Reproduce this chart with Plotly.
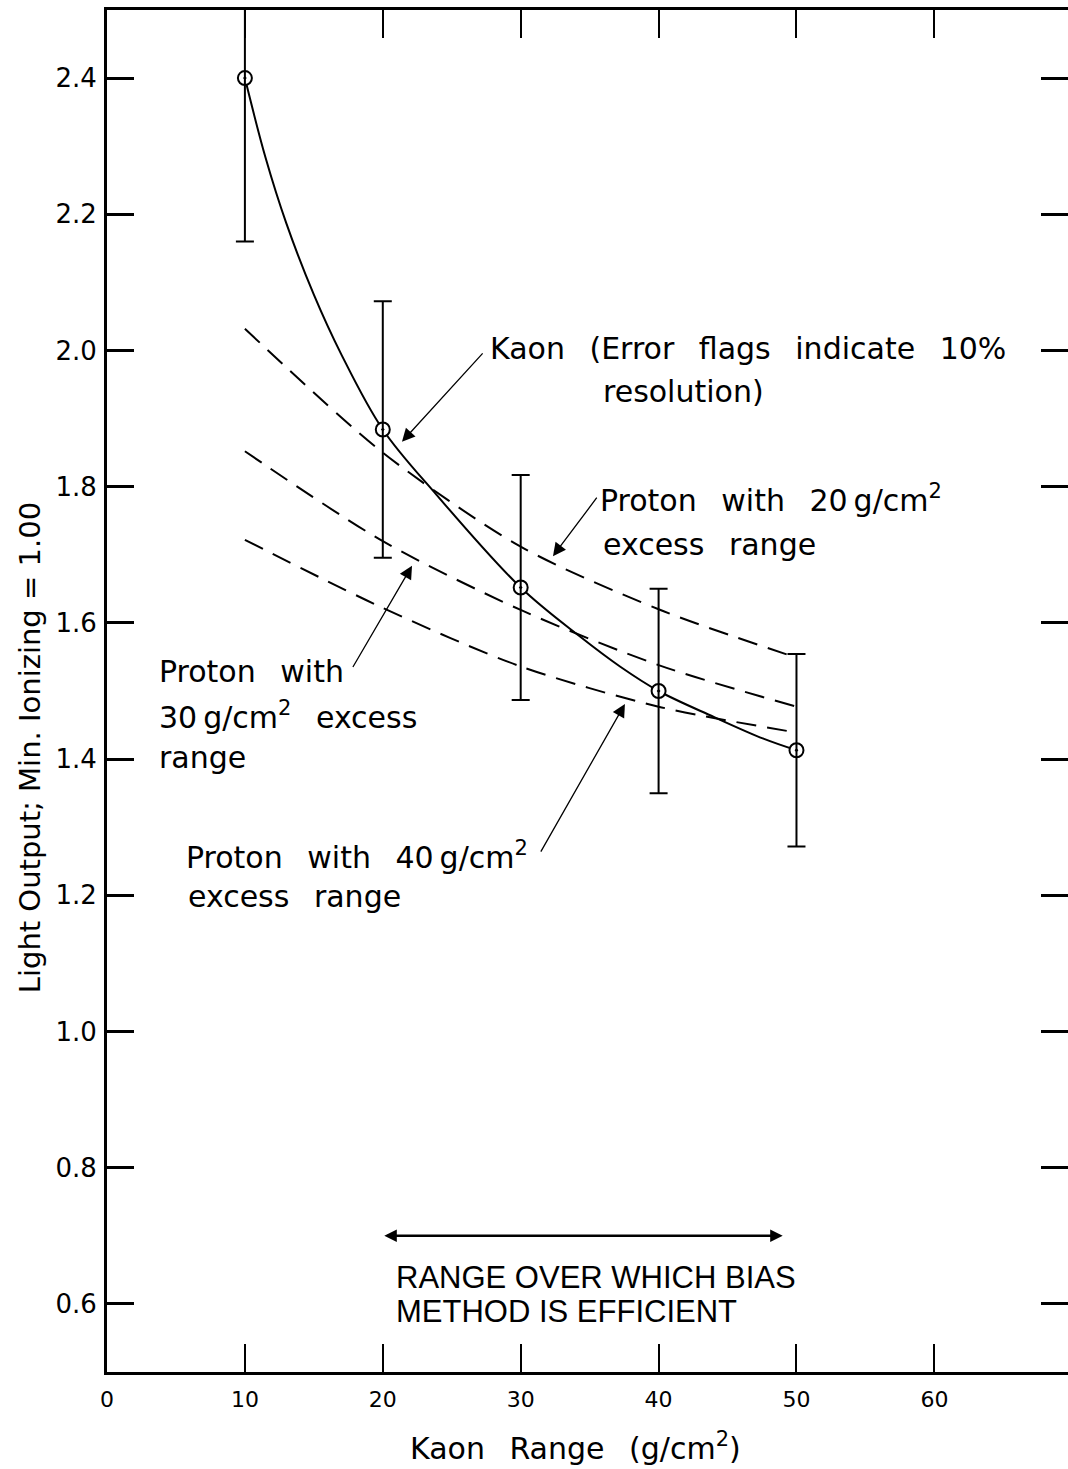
import plotly.graph_objects as go

# Measured kaon light output (relative to minimum ionizing) vs. kaon range
kaon_range = [10, 20, 30, 40, 50]
kaon_light = [2.40, 1.884, 1.652, 1.50, 1.413]
error_percent = 10

# Hand-drawn kaon curve through the measured points
kaon_curve_x = [10, 11.5, 13, 15, 17, 20, 23.9, 30, 34.3, 37.2, 40, 44, 47.6, 50]
kaon_curve_y = [2.40, 2.283, 2.187, 2.082, 1.994, 1.884, 1.788, 1.652, 1.580, 1.536, 1.50, 1.462, 1.430, 1.413]

# Proton curves for different excess ranges
proton_x = [10, 20, 30, 40, 50]
proton_20 = [2.032, 1.850, 1.712, 1.620, 1.549]
proton_30 = [1.852, 1.720, 1.619, 1.538, 1.477]
proton_40 = [1.722, 1.622, 1.536, 1.477, 1.439]

x_ticks = [0, 10, 20, 30, 40, 50, 60]
y_ticks = [0.6, 0.8, 1.0, 1.2, 1.4, 1.6, 1.8, 2.0, 2.2, 2.4]
y_tick_text = ["0.6", "0.8", "1.0", "1.2", "1.4", "1.6", "1.8", "2.0", "2.2", "2.4"]

W, H = 1068, 1469
ML, MR, MT, MB = 107, 0, 10, 97
X_RANGE = [0, 69.69]
Y_RANGE = [0.5, 2.5]

LETTER = "DejaVu Sans"
INK = "black"


def spaced(s):
    # hand lettering leaves generous gaps between words
    return s.replace(" ", "\u2002 ")


fig = go.Figure()

for ys in (proton_20, proton_30, proton_40):
    fig.add_trace(go.Scatter(
        x=proton_x, y=ys, mode="lines",
        line=dict(color=INK, width=2, dash="20px,11px", shape="spline", smoothing=0.8),
        showlegend=False, hoverinfo="skip"))

fig.add_trace(go.Scatter(
    x=kaon_curve_x, y=kaon_curve_y, mode="lines",
    line=dict(color=INK, width=2, shape="spline", smoothing=1.0),
    showlegend=False, hoverinfo="skip"))

# white discs so the curves stop at the point circles
fig.add_trace(go.Scatter(
    x=kaon_range, y=kaon_light, mode="markers",
    marker=dict(symbol="circle", size=14, color="white", line=dict(width=0)),
    showlegend=False, hoverinfo="skip"))

fig.add_trace(go.Scatter(
    x=kaon_range, y=kaon_light, mode="markers",
    marker=dict(symbol="circle-open-dot", size=14, color=INK, line=dict(width=2, color=INK)),
    error_y=dict(type="percent", value=error_percent, color=INK, thickness=2, width=9),
    showlegend=False))

annotations = []


def label(text, px_x, px_y, size=30, family=LETTER):
    x = X_RANGE[0] + (px_x - ML) / (W - ML - MR) * (X_RANGE[1] - X_RANGE[0])
    y = Y_RANGE[1] - (px_y - MT) / (H - MT - MB) * (Y_RANGE[1] - Y_RANGE[0])
    annotations.append(dict(
        x=x, y=y, xref="x", yref="y", text=text, showarrow=False,
        xanchor="left", yanchor="middle",
        font=dict(family=family, size=size, color=INK)))


def arrow(x_tail, y_tail, x_tip, y_tip, both=False):
    annotations.append(dict(
        x=x_tip, y=y_tip, ax=x_tail, ay=y_tail, xref="x", yref="y",
        axref="x", ayref="y", text="", showarrow=True,
        arrowhead=2, arrowsize=1.0 if both else 2.0,
        arrowwidth=2.5 if both else 1.3, arrowcolor=INK,
        arrowside="end+start" if both else "end", standoff=0, startstandoff=0))


label(spaced("Kaon (Error flags indicate 10%"), 488, 348)
label("resolution)", 601, 391)
label(spaced("Proton with 20") + "\u2009g/cm<sup>2</sup>", 598, 498)
label(spaced("excess range"), 601, 544)
label(spaced("Proton with"), 157, 671)
label("30\u2009g/cm<sup>2</sup>" + spaced(" excess"), 157, 715)
label("range", 157, 757)
label(spaced("Proton with 40") + "\u2009g/cm<sup>2</sup>", 184, 855)
label(spaced("excess range"), 186, 896)
label("RANGE OVER WHICH BIAS", 394, 1277, size=31, family="Liberation Sans")
label("METHOD IS EFFICIENT", 394, 1311, size=31, family="Liberation Sans")

arrow(27.34, 1.998, 21.39, 1.866)
arrow(35.6, 1.786, 32.34, 1.698)
arrow(17.77, 1.533, 22.12, 1.684)
arrow(31.4, 1.262, 37.56, 1.481)
arrow(20.0, 0.70, 49.0, 0.70, both=True)

annotations.append(dict(
    x=-0.0801, y=0.458, xref="paper", yref="paper", textangle=-90,
    text="Light Output; Min. Ionizing = 1.00", showarrow=False,
    xanchor="center", yanchor="middle",
    font=dict(family=LETTER, size=29, color=INK)))
annotations.append(dict(
    x=0.488, y=-0.055, xref="paper", yref="paper",
    text=spaced("Kaon Range (g/cm") + "<sup>2</sup>)", showarrow=False,
    xanchor="center", yanchor="middle",
    font=dict(family=LETTER, size=30, color=INK)))

fig.update_layout(
    width=W, height=H,
    margin=dict(l=ML, r=MR, t=MT, b=MB, pad=0),
    paper_bgcolor="white", plot_bgcolor="white",
    showlegend=False,
    annotations=annotations,
    xaxis=dict(
        range=X_RANGE, tickvals=x_ticks, ticktext=[str(v) for v in x_ticks],
        ticks="inside", ticklen=28, tickwidth=2, tickcolor=INK,
        showline=True, linewidth=3, linecolor=INK, mirror="ticks",
        showgrid=False, zeroline=False, ticklabelstandoff=6,
        tickfont=dict(family=LETTER, size=22, color=INK)),
    yaxis=dict(
        range=Y_RANGE, tickvals=y_ticks, ticktext=y_tick_text,
        ticks="inside", ticklen=27, tickwidth=2.5, tickcolor=INK,
        showline=True, linewidth=3, linecolor=INK, mirror=False,
        showgrid=False, zeroline=False, ticklabelstandoff=2,
        tickfont=dict(family=LETTER, size=26, color=INK)),
    yaxis2=dict(
        range=Y_RANGE, overlaying="y", side="right", tickvals=y_ticks,
        ticks="inside", ticklen=27, tickwidth=2.5, tickcolor=INK,
        showline=False, showticklabels=False, showgrid=False, zeroline=False),
)

# invisible trace so the right-hand tick axis is drawn
fig.add_trace(go.Scatter(x=[None], y=[None], yaxis="y2", showlegend=False, hoverinfo="skip"))

fig.write_html("out.html")
